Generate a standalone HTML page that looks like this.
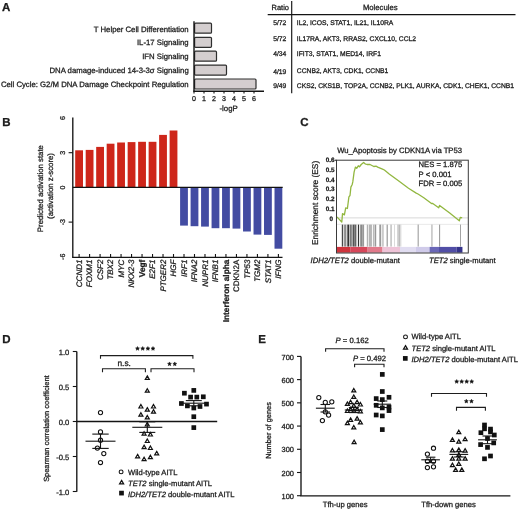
<!DOCTYPE html>
<html><head><meta charset="utf-8"><title>Figure</title>
<style>
html,body{margin:0;padding:0;background:#fff;}
body{width:520px;height:510px;overflow:hidden;}
svg{filter:blur(0.3px);display:block;font-family:"Liberation Sans", sans-serif;text-rendering:geometricPrecision;}
text{stroke:#1c1c1c;stroke-width:0.28px;}
</style></head>
<body>
<svg width="520" height="510" viewBox="0 0 520 510">
<rect width="520" height="510" fill="#fff"/>
<text x="2.0" y="10.6" font-size="11.5" font-weight="bold" fill="#1c1c1c">A</text>
<text x="188.7" y="31.5" font-size="7.75" text-anchor="end" fill="#1c1c1c">T Helper Cell Differentiation</text>
<text x="188.7" y="45.3" font-size="7.75" text-anchor="end" fill="#1c1c1c">IL-17 Signaling</text>
<text x="188.7" y="59.2" font-size="7.75" text-anchor="end" fill="#1c1c1c">IFN Signaling</text>
<text x="188.7" y="73.0" font-size="7.75" text-anchor="end" fill="#1c1c1c">DNA damage-induced 14-3-3&#963; Signaling</text>
<text x="188.7" y="86.8" font-size="7.75" text-anchor="end" fill="#1c1c1c">Cell Cycle: G2/M DNA Damage Checkpoint Regulation</text>
<rect x="194.60" y="23.20" width="16.90" height="10.0" rx="1.0" fill="#d4cecf" stroke="#2e2e2e" stroke-width="1.2"/>
<rect x="194.60" y="37.30" width="16.90" height="10.0" rx="1.0" fill="#d4cecf" stroke="#2e2e2e" stroke-width="1.2"/>
<rect x="194.60" y="51.20" width="21.90" height="10.0" rx="1.0" fill="#d4cecf" stroke="#2e2e2e" stroke-width="1.2"/>
<rect x="194.60" y="65.10" width="31.90" height="10.0" rx="1.0" fill="#d4cecf" stroke="#2e2e2e" stroke-width="1.2"/>
<rect x="194.60" y="79.00" width="61.40" height="10.0" rx="1.0" fill="#d4cecf" stroke="#2e2e2e" stroke-width="1.2"/>
<line x1="194.0" y1="21.3" x2="194.0" y2="91.6" stroke="#141414" stroke-width="1.4"/>
<line x1="193.3" y1="91.3" x2="264.0" y2="91.3" stroke="#141414" stroke-width="1.4"/>
<line x1="194.0" y1="91.3" x2="194.0" y2="93.6" stroke="#141414" stroke-width="1.1"/>
<text x="194.0" y="101.0" font-size="7.1" text-anchor="middle" fill="#1c1c1c">0</text>
<line x1="204.0" y1="91.3" x2="204.0" y2="93.6" stroke="#141414" stroke-width="1.1"/>
<text x="204.0" y="101.0" font-size="7.1" text-anchor="middle" fill="#1c1c1c">1</text>
<line x1="214.0" y1="91.3" x2="214.0" y2="93.6" stroke="#141414" stroke-width="1.1"/>
<text x="214.0" y="101.0" font-size="7.1" text-anchor="middle" fill="#1c1c1c">2</text>
<line x1="224.0" y1="91.3" x2="224.0" y2="93.6" stroke="#141414" stroke-width="1.1"/>
<text x="224.0" y="101.0" font-size="7.1" text-anchor="middle" fill="#1c1c1c">3</text>
<line x1="234.0" y1="91.3" x2="234.0" y2="93.6" stroke="#141414" stroke-width="1.1"/>
<text x="234.0" y="101.0" font-size="7.1" text-anchor="middle" fill="#1c1c1c">4</text>
<line x1="244.0" y1="91.3" x2="244.0" y2="93.6" stroke="#141414" stroke-width="1.1"/>
<text x="244.0" y="101.0" font-size="7.1" text-anchor="middle" fill="#1c1c1c">5</text>
<line x1="254.0" y1="91.3" x2="254.0" y2="93.6" stroke="#141414" stroke-width="1.1"/>
<text x="254.0" y="101.0" font-size="7.1" text-anchor="middle" fill="#1c1c1c">6</text>
<text x="228.6" y="111.3" font-size="7.8" text-anchor="middle" fill="#1c1c1c">-logP</text>
<line x1="291.7" y1="1.0" x2="291.7" y2="93.3" stroke="#141414" stroke-width="1.15"/>
<line x1="267.7" y1="14.6" x2="515.5" y2="14.6" stroke="#141414" stroke-width="1.1"/>
<text x="280.3" y="10.3" font-size="7.5" text-anchor="middle" fill="#1c1c1c">Ratio</text>
<text x="380.2" y="10.1" font-size="7.7" text-anchor="middle" fill="#1c1c1c">Molecules</text>
<text x="279.7" y="25.3" font-size="6.75" text-anchor="middle" fill="#1c1c1c">5/72</text>
<text x="296.8" y="25.3" font-size="6.75" fill="#1c1c1c">IL2, ICOS, STAT1, IL21, IL10RA</text>
<text x="279.7" y="40.9" font-size="6.75" text-anchor="middle" fill="#1c1c1c">5/72</text>
<text x="296.8" y="40.9" font-size="6.75" fill="#1c1c1c">IL17RA, AKT3, RRAS2, CXCL10, CCL2</text>
<text x="279.7" y="56.4" font-size="6.75" text-anchor="middle" fill="#1c1c1c">4/34</text>
<text x="296.8" y="56.4" font-size="6.75" fill="#1c1c1c">IFIT3, STAT1, MED14, IRF1</text>
<text x="279.7" y="74.4" font-size="6.75" text-anchor="middle" fill="#1c1c1c">4/19</text>
<text x="296.8" y="72.7" font-size="6.75" fill="#1c1c1c">CCNB2, AKT3, CDK1, CCNB1</text>
<text x="279.7" y="88.3" font-size="6.75" text-anchor="middle" fill="#1c1c1c">9/49</text>
<text x="296.8" y="88.3" font-size="6.75" fill="#1c1c1c">CKS2, CKS1B, TOP2A, CCNB2, PLK1, AURKA, CDK1, CHEK1, CCNB1</text>
<text x="2.2" y="125.6" font-size="11.5" font-weight="bold" fill="#1c1c1c">B</text>
<line x1="72.8" y1="117.4" x2="72.8" y2="257.5" stroke="#141414" stroke-width="1.35"/>
<line x1="72.14999999999999" y1="257.4" x2="282.5" y2="257.4" stroke="#141414" stroke-width="1.35"/>
<text x="65.1" y="117.98" font-size="7.1" text-anchor="middle" fill="#1c1c1c" transform="rotate(-90 65.1 117.98)">6</text>
<line x1="68.6" y1="152.69" x2="72.8" y2="152.69" stroke="#141414" stroke-width="1.1"/>
<text x="65.1" y="152.69" font-size="7.1" text-anchor="middle" fill="#1c1c1c" transform="rotate(-90 65.1 152.69)">3</text>
<text x="65.1" y="187.4" font-size="7.1" text-anchor="middle" fill="#1c1c1c" transform="rotate(-90 65.1 187.4)">0</text>
<line x1="68.6" y1="222.11" x2="72.8" y2="222.11" stroke="#141414" stroke-width="1.1"/>
<text x="65.1" y="222.11" font-size="7.1" text-anchor="middle" fill="#1c1c1c" transform="rotate(-90 65.1 222.11)">-3</text>
<text x="65.1" y="256.82" font-size="7.1" text-anchor="middle" fill="#1c1c1c" transform="rotate(-90 65.1 256.82)">-6</text>
<text x="42.9" y="188.6" font-size="7.8" text-anchor="middle" fill="#1c1c1c" transform="rotate(-90 42.9 188.6)">Predicted activation state</text>
<text x="53.2" y="186.0" font-size="7.8" text-anchor="middle" fill="#1c1c1c" transform="rotate(-90 53.2 186.0)">(activation z-score)</text>
<rect x="75.20" y="150.30" width="7.80" height="37.10" fill="#ce261a"/>
<line x1="79.10000000000001" y1="254.0" x2="79.10000000000001" y2="257.4" stroke="#141414" stroke-width="1.1"/>
<text x="81.80000000000001" y="259.6" font-size="8.0" text-anchor="end" font-style="italic" fill="#1c1c1c" transform="rotate(-90 81.80000000000001 259.6)">CCND1</text>
<rect x="85.69" y="149.90" width="7.80" height="37.50" fill="#ce261a"/>
<line x1="89.59" y1="254.0" x2="89.59" y2="257.4" stroke="#141414" stroke-width="1.1"/>
<text x="92.29" y="259.6" font-size="8.0" text-anchor="end" font-style="italic" fill="#1c1c1c" transform="rotate(-90 92.29 259.6)">FOXM1</text>
<rect x="96.18" y="146.90" width="7.80" height="40.50" fill="#ce261a"/>
<line x1="100.08000000000001" y1="254.0" x2="100.08000000000001" y2="257.4" stroke="#141414" stroke-width="1.1"/>
<text x="102.78000000000002" y="259.6" font-size="8.0" text-anchor="end" font-style="italic" fill="#1c1c1c" transform="rotate(-90 102.78000000000002 259.6)">CSF2</text>
<rect x="106.67" y="143.70" width="7.80" height="43.70" fill="#ce261a"/>
<line x1="110.57000000000001" y1="254.0" x2="110.57000000000001" y2="257.4" stroke="#141414" stroke-width="1.1"/>
<text x="113.27000000000001" y="259.6" font-size="8.0" text-anchor="end" font-style="italic" fill="#1c1c1c" transform="rotate(-90 113.27000000000001 259.6)">TBX2</text>
<rect x="117.16" y="142.50" width="7.80" height="44.90" fill="#ce261a"/>
<line x1="121.06" y1="254.0" x2="121.06" y2="257.4" stroke="#141414" stroke-width="1.1"/>
<text x="123.76" y="259.6" font-size="8.0" text-anchor="end" font-style="italic" fill="#1c1c1c" transform="rotate(-90 123.76 259.6)">MYC</text>
<rect x="127.65" y="142.10" width="7.80" height="45.30" fill="#ce261a"/>
<line x1="131.55" y1="254.0" x2="131.55" y2="257.4" stroke="#141414" stroke-width="1.1"/>
<text x="134.25" y="259.6" font-size="8.0" text-anchor="end" font-style="italic" fill="#1c1c1c" transform="rotate(-90 134.25 259.6)">NKX2-3</text>
<rect x="138.14" y="141.80" width="7.80" height="45.60" fill="#ce261a"/>
<line x1="142.04" y1="254.0" x2="142.04" y2="257.4" stroke="#141414" stroke-width="1.1"/>
<text x="144.73999999999998" y="259.6" font-size="8.3" text-anchor="end" font-weight="bold" fill="#1c1c1c" transform="rotate(-90 144.73999999999998 259.6)">Vegf</text>
<rect x="148.63" y="141.80" width="7.80" height="45.60" fill="#ce261a"/>
<line x1="152.53" y1="254.0" x2="152.53" y2="257.4" stroke="#141414" stroke-width="1.1"/>
<text x="155.23" y="259.6" font-size="8.0" text-anchor="end" font-style="italic" fill="#1c1c1c" transform="rotate(-90 155.23 259.6)">E2F1</text>
<rect x="159.12" y="134.90" width="7.80" height="52.50" fill="#ce261a"/>
<line x1="163.02" y1="254.0" x2="163.02" y2="257.4" stroke="#141414" stroke-width="1.1"/>
<text x="165.72" y="259.6" font-size="8.0" text-anchor="end" font-style="italic" fill="#1c1c1c" transform="rotate(-90 165.72 259.6)">PTGER2</text>
<rect x="169.61" y="130.50" width="7.80" height="56.90" fill="#ce261a"/>
<line x1="173.51000000000002" y1="254.0" x2="173.51000000000002" y2="257.4" stroke="#141414" stroke-width="1.1"/>
<text x="176.21" y="259.6" font-size="8.0" text-anchor="end" font-style="italic" fill="#1c1c1c" transform="rotate(-90 176.21 259.6)">HGF</text>
<rect x="180.10" y="187.40" width="7.80" height="38.20" fill="#434ca2"/>
<line x1="184.00000000000003" y1="254.0" x2="184.00000000000003" y2="257.4" stroke="#141414" stroke-width="1.1"/>
<text x="186.70000000000002" y="259.6" font-size="8.0" text-anchor="end" font-style="italic" fill="#1c1c1c" transform="rotate(-90 186.70000000000002 259.6)">IRF1</text>
<rect x="190.59" y="187.40" width="7.80" height="38.80" fill="#434ca2"/>
<line x1="194.49" y1="254.0" x2="194.49" y2="257.4" stroke="#141414" stroke-width="1.1"/>
<text x="197.19" y="259.6" font-size="8.0" text-anchor="end" font-style="italic" fill="#1c1c1c" transform="rotate(-90 197.19 259.6)">IFNA2</text>
<rect x="201.08" y="187.40" width="7.80" height="39.20" fill="#434ca2"/>
<line x1="204.98" y1="254.0" x2="204.98" y2="257.4" stroke="#141414" stroke-width="1.1"/>
<text x="207.67999999999998" y="259.6" font-size="8.0" text-anchor="end" font-style="italic" fill="#1c1c1c" transform="rotate(-90 207.67999999999998 259.6)">NUPR1</text>
<rect x="211.57" y="187.40" width="7.80" height="40.80" fill="#434ca2"/>
<line x1="215.47" y1="254.0" x2="215.47" y2="257.4" stroke="#141414" stroke-width="1.1"/>
<text x="218.17" y="259.6" font-size="8.0" text-anchor="end" font-style="italic" fill="#1c1c1c" transform="rotate(-90 218.17 259.6)">IFNB1</text>
<rect x="222.06" y="187.40" width="7.80" height="40.80" fill="#434ca2"/>
<line x1="225.96" y1="254.0" x2="225.96" y2="257.4" stroke="#141414" stroke-width="1.1"/>
<text x="228.66" y="259.6" font-size="8.3" text-anchor="end" font-weight="bold" fill="#1c1c1c" transform="rotate(-90 228.66 259.6)">Interferon alpha</text>
<rect x="232.55" y="187.40" width="7.80" height="41.20" fill="#434ca2"/>
<line x1="236.45000000000002" y1="254.0" x2="236.45000000000002" y2="257.4" stroke="#141414" stroke-width="1.1"/>
<text x="239.15" y="259.6" font-size="8.0" text-anchor="end" fill="#1c1c1c" transform="rotate(-90 239.15 259.6)">CDKN2A</text>
<rect x="243.04" y="187.40" width="7.80" height="44.10" fill="#434ca2"/>
<line x1="246.94000000000003" y1="254.0" x2="246.94000000000003" y2="257.4" stroke="#141414" stroke-width="1.1"/>
<text x="249.64000000000001" y="259.6" font-size="8.0" text-anchor="end" font-style="italic" fill="#1c1c1c" transform="rotate(-90 249.64000000000001 259.6)">TP53</text>
<rect x="253.53" y="187.40" width="7.80" height="47.20" fill="#434ca2"/>
<line x1="257.43" y1="254.0" x2="257.43" y2="257.4" stroke="#141414" stroke-width="1.1"/>
<text x="260.13" y="259.6" font-size="8.0" text-anchor="end" font-style="italic" fill="#1c1c1c" transform="rotate(-90 260.13 259.6)">TGM2</text>
<rect x="264.02" y="187.40" width="7.80" height="47.50" fill="#434ca2"/>
<line x1="267.91999999999996" y1="254.0" x2="267.91999999999996" y2="257.4" stroke="#141414" stroke-width="1.1"/>
<text x="270.61999999999995" y="259.6" font-size="8.0" text-anchor="end" font-style="italic" fill="#1c1c1c" transform="rotate(-90 270.61999999999995 259.6)">STAT1</text>
<rect x="274.51" y="187.40" width="7.80" height="61.30" fill="#434ca2"/>
<line x1="278.40999999999997" y1="254.0" x2="278.40999999999997" y2="257.4" stroke="#141414" stroke-width="1.1"/>
<text x="281.10999999999996" y="259.6" font-size="8.0" text-anchor="end" font-style="italic" fill="#1c1c1c" transform="rotate(-90 281.10999999999996 259.6)">IFNG</text>
<line x1="72.8" y1="187.4" x2="282.7" y2="187.4" stroke="#111" stroke-width="1.4"/>
<text x="300.3" y="125.8" font-size="11.5" font-weight="bold" fill="#1c1c1c">C</text>
<text x="399.6" y="153.3" font-size="7.7" text-anchor="middle" fill="#1c1c1c">Wu_Apoptosis by CDKN1A via TP53</text>
<line x1="336.5" y1="217.9" x2="468.3" y2="217.9" stroke="#d8d8d8" stroke-width="1.0"/>
<line x1="336.5" y1="224.4" x2="468.3" y2="224.4" stroke="#e4e4e4" stroke-width="0.8"/>
<rect x="341.80" y="224.60" width="1.40" height="22.00" fill="#484848"/>
<rect x="344.10" y="224.60" width="2.30" height="22.00" fill="#8c8c8c"/>
<rect x="347.40" y="224.60" width="1.50" height="22.00" fill="#1e1e1e"/>
<rect x="349.50" y="224.60" width="2.30" height="22.00" fill="#7a7a7a"/>
<rect x="352.50" y="224.60" width="1.80" height="22.00" fill="#555"/>
<rect x="354.30" y="224.60" width="2.10" height="22.00" fill="#666"/>
<rect x="357.90" y="224.60" width="1.20" height="22.00" fill="#333"/>
<rect x="360.20" y="224.60" width="2.00" height="22.00" fill="#8a8a8a"/>
<rect x="362.20" y="224.60" width="1.90" height="22.00" fill="#999"/>
<rect x="366.80" y="224.60" width="1.10" height="22.00" fill="#aaa"/>
<rect x="368.70" y="224.60" width="1.50" height="22.00" fill="#b4b4b4"/>
<rect x="370.20" y="224.60" width="1.60" height="22.00" fill="#aaa"/>
<rect x="372.90" y="224.60" width="1.60" height="22.00" fill="#bbb"/>
<rect x="374.80" y="224.60" width="1.40" height="22.00" fill="#999"/>
<rect x="379.30" y="224.60" width="1.90" height="22.00" fill="#9a9a9a"/>
<rect x="382.40" y="224.60" width="1.10" height="22.00" fill="#aaa"/>
<rect x="386.60" y="224.60" width="1.20" height="22.00" fill="#999"/>
<rect x="390.50" y="224.60" width="1.10" height="22.00" fill="#aaa"/>
<rect x="394.00" y="224.60" width="0.70" height="22.00" fill="#ccc"/>
<rect x="397.60" y="224.60" width="0.90" height="22.00" fill="#999"/>
<rect x="399.20" y="224.60" width="0.80" height="22.00" fill="#aaa"/>
<rect x="400.50" y="224.60" width="0.70" height="22.00" fill="#bbb"/>
<rect x="417.70" y="224.60" width="0.90" height="22.00" fill="#888"/>
<rect x="431.50" y="224.60" width="0.90" height="22.00" fill="#999"/>
<rect x="439.20" y="224.60" width="0.90" height="22.00" fill="#888"/>
<rect x="460.00" y="224.60" width="0.90" height="22.00" fill="#999"/>
<rect x="337.00" y="246.90" width="13.25" height="5.80" fill="#cf343d"/>
<rect x="350.20" y="246.90" width="17.45" height="5.80" fill="#d6475a"/>
<rect x="367.60" y="246.90" width="14.95" height="5.80" fill="#e17a8b"/>
<rect x="382.50" y="246.90" width="17.55" height="5.80" fill="#eec3d7"/>
<rect x="400.00" y="246.90" width="16.05" height="5.80" fill="#e1ddf1"/>
<rect x="416.00" y="246.90" width="13.65" height="5.80" fill="#d0cbea"/>
<rect x="429.60" y="246.90" width="9.45" height="5.80" fill="#6a67b7"/>
<rect x="439.00" y="246.90" width="17.55" height="5.80" fill="#514ea6"/>
<rect x="456.50" y="246.90" width="5.95" height="5.80" fill="#36348b"/>
<polyline points="336.9,216.9 341.8,222.0 342.5,213.6 344.4,214.9 345.7,207.8 347.4,208.5 348.9,196.8 350.0,195.5 350.9,187.1 352.2,184.5 352.8,181.9 354.1,172.2 355.4,167.1 356.7,168.3 358.3,165.8 359.5,166.8 361.2,164.5 363.6,162.5 365.1,163.8 367.0,164.5 370.0,164.5 373.8,166.5 376.3,166.2 377.7,167.1 382.5,169.1 384.4,170.0 389.2,173.9 398.8,181.1 408.5,188.3 416.2,193.1 418.0,194.0 423.8,197.7 431.5,203.5 432.4,203.3 438.7,207.8 439.6,205.4 449.7,213.1 459.3,220.8 460.3,217.4 462.2,217.9" fill="none" stroke="#92b740" stroke-width="1.3" stroke-linejoin="round"/>
<rect x="336.5" y="160.2" width="131.8" height="92.80000000000001" fill="none" stroke="#3a3a3a" stroke-width="1.0"/>
<text x="333.0" y="221.2" font-size="6.3" text-anchor="end" font-weight="bold" fill="#1c1c1c">0</text>
<text x="334.6" y="210.7" font-size="6.3" text-anchor="end" font-weight="bold" fill="#1c1c1c">0.1</text>
<text x="334.6" y="200.99999999999997" font-size="6.3" text-anchor="end" font-weight="bold" fill="#1c1c1c">0.2</text>
<text x="334.6" y="191.29999999999998" font-size="6.3" text-anchor="end" font-weight="bold" fill="#1c1c1c">0.3</text>
<text x="334.6" y="181.59999999999997" font-size="6.3" text-anchor="end" font-weight="bold" fill="#1c1c1c">0.4</text>
<text x="334.6" y="171.89999999999998" font-size="6.3" text-anchor="end" font-weight="bold" fill="#1c1c1c">0.5</text>
<text x="334.6" y="162.2" font-size="6.3" text-anchor="end" font-weight="bold" fill="#1c1c1c">0.6</text>
<line x1="334.8" y1="160.2" x2="336.5" y2="160.2" stroke="#141414" stroke-width="1.0"/>
<text x="317.9" y="202.9" font-size="8.4" text-anchor="middle" fill="#1c1c1c" transform="rotate(-90 317.9 202.9)">Enrichment score (ES)</text>
<text x="418.6" y="167.3" font-size="7.65" fill="#1c1c1c">NES = 1.875</text>
<text x="418.6" y="176.6" font-size="7.65" fill="#1c1c1c">P &lt; 0.001</text>
<text x="418.6" y="185.9" font-size="7.65" fill="#1c1c1c">FDR = 0.005</text>
<text x="310.6" y="262.6" font-size="7.65" fill="#1c1c1c"><tspan font-style="italic">IDH2/TET2</tspan> double-mutant</text>
<text x="429.0" y="262.6" font-size="7.65" fill="#1c1c1c"><tspan font-style="italic">TET2</tspan> single-mutant</text>
<text x="2.2" y="343.2" font-size="11.5" font-weight="bold" fill="#1c1c1c">D</text>
<line x1="76.8" y1="351.5" x2="76.8" y2="491.8" stroke="#141414" stroke-width="1.35"/>
<line x1="72.8" y1="351.5" x2="76.8" y2="351.5" stroke="#141414" stroke-width="1.1"/>
<text x="69.3" y="355.4" font-size="7.6" text-anchor="end" fill="#1c1c1c">1.0</text>
<line x1="72.8" y1="386.5" x2="76.8" y2="386.5" stroke="#141414" stroke-width="1.1"/>
<text x="69.3" y="390.4" font-size="7.6" text-anchor="end" fill="#1c1c1c">0.5</text>
<line x1="72.8" y1="421.5" x2="76.8" y2="421.5" stroke="#141414" stroke-width="1.1"/>
<text x="69.3" y="425.4" font-size="7.6" text-anchor="end" fill="#1c1c1c">0.0</text>
<line x1="72.8" y1="456.5" x2="76.8" y2="456.5" stroke="#141414" stroke-width="1.1"/>
<text x="69.3" y="460.4" font-size="7.6" text-anchor="end" fill="#1c1c1c">-0.5</text>
<line x1="72.8" y1="491.5" x2="76.8" y2="491.5" stroke="#141414" stroke-width="1.1"/>
<text x="69.3" y="495.4" font-size="7.6" text-anchor="end" fill="#1c1c1c">-1.0</text>
<line x1="76.8" y1="421.5" x2="217.2" y2="421.5" stroke="#141414" stroke-width="1.35"/>
<text x="49.2" y="428.6" font-size="7.45" text-anchor="middle" fill="#1c1c1c" transform="rotate(-90 49.2 428.6)">Spearman correlation coefficient</text>
<circle cx="100.5" cy="412.6" r="2.1" fill="#fff" stroke="#111" stroke-width="1.05"/>
<circle cx="100.5" cy="431.9" r="2.1" fill="#fff" stroke="#111" stroke-width="1.05"/>
<circle cx="100.5" cy="440.2" r="2.1" fill="#fff" stroke="#111" stroke-width="1.05"/>
<circle cx="97.4" cy="448.1" r="2.1" fill="#fff" stroke="#111" stroke-width="1.05"/>
<circle cx="103.8" cy="453.6" r="2.1" fill="#fff" stroke="#111" stroke-width="1.05"/>
<circle cx="100.5" cy="462.5" r="2.1" fill="#fff" stroke="#111" stroke-width="1.05"/>
<line x1="85.5" y1="441.2" x2="115.5" y2="441.2" stroke="#141414" stroke-width="1.1"/>
<line x1="100.5" y1="434.1" x2="100.5" y2="448.4" stroke="#141414" stroke-width="1.1"/>
<line x1="92.3" y1="434.1" x2="108.7" y2="434.1" stroke="#141414" stroke-width="1.1"/>
<line x1="92.3" y1="448.4" x2="108.7" y2="448.4" stroke="#141414" stroke-width="1.1"/>
<polygon points="147.30,375.85 149.30,379.32 145.30,379.32" fill="#fff" stroke="#111" stroke-width="1.2" stroke-linejoin="miter"/>
<polygon points="147.30,388.75 149.30,392.22 145.30,392.22" fill="#fff" stroke="#111" stroke-width="1.2" stroke-linejoin="miter"/>
<polygon points="140.90,404.55 142.90,408.02 138.90,408.02" fill="#fff" stroke="#111" stroke-width="1.2" stroke-linejoin="miter"/>
<polygon points="147.30,407.65 149.30,411.12 145.30,411.12" fill="#fff" stroke="#111" stroke-width="1.2" stroke-linejoin="miter"/>
<polygon points="153.50,404.55 155.50,408.02 151.50,408.02" fill="#fff" stroke="#111" stroke-width="1.2" stroke-linejoin="miter"/>
<polygon points="153.50,409.65 155.50,413.12 151.50,413.12" fill="#fff" stroke="#111" stroke-width="1.2" stroke-linejoin="miter"/>
<polygon points="140.90,412.75 142.90,416.22 138.90,416.22" fill="#fff" stroke="#111" stroke-width="1.2" stroke-linejoin="miter"/>
<polygon points="147.30,415.45 149.30,418.92 145.30,418.92" fill="#fff" stroke="#111" stroke-width="1.2" stroke-linejoin="miter"/>
<polygon points="147.30,422.55 149.30,426.02 145.30,426.02" fill="#fff" stroke="#111" stroke-width="1.2" stroke-linejoin="miter"/>
<polygon points="144.10,431.75 146.10,435.22 142.10,435.22" fill="#fff" stroke="#111" stroke-width="1.2" stroke-linejoin="miter"/>
<polygon points="150.40,432.55 152.40,436.02 148.40,436.02" fill="#fff" stroke="#111" stroke-width="1.2" stroke-linejoin="miter"/>
<polygon points="147.30,439.05 149.30,442.52 145.30,442.52" fill="#fff" stroke="#111" stroke-width="1.2" stroke-linejoin="miter"/>
<polygon points="144.10,445.15 146.10,448.62 142.10,448.62" fill="#fff" stroke="#111" stroke-width="1.2" stroke-linejoin="miter"/>
<polygon points="150.40,446.05 152.40,449.52 148.40,449.52" fill="#fff" stroke="#111" stroke-width="1.2" stroke-linejoin="miter"/>
<polygon points="156.70,451.35 158.70,454.82 154.70,454.82" fill="#fff" stroke="#111" stroke-width="1.2" stroke-linejoin="miter"/>
<polygon points="137.60,454.35 139.60,457.82 135.60,457.82" fill="#fff" stroke="#111" stroke-width="1.2" stroke-linejoin="miter"/>
<polygon points="144.10,457.25 146.10,460.72 142.10,460.72" fill="#fff" stroke="#111" stroke-width="1.2" stroke-linejoin="miter"/>
<polygon points="150.40,455.25 152.40,458.72 148.40,458.72" fill="#fff" stroke="#111" stroke-width="1.2" stroke-linejoin="miter"/>
<line x1="132.3" y1="427.3" x2="162.3" y2="427.3" stroke="#141414" stroke-width="1.1"/>
<line x1="147.3" y1="421.8" x2="147.3" y2="432.4" stroke="#141414" stroke-width="1.1"/>
<line x1="139.3" y1="421.8" x2="155.3" y2="421.8" stroke="#141414" stroke-width="1.1"/>
<line x1="139.3" y1="432.4" x2="155.3" y2="432.4" stroke="#141414" stroke-width="1.1"/>
<rect x="191.45" y="388.05" width="4.7" height="4.7" fill="#111"/>
<rect x="182.05" y="390.85" width="4.7" height="4.7" fill="#111"/>
<rect x="188.25" y="394.75" width="4.7" height="4.7" fill="#111"/>
<rect x="194.45" y="394.75" width="4.7" height="4.7" fill="#111"/>
<rect x="200.95" y="394.45" width="4.7" height="4.7" fill="#111"/>
<rect x="179.05" y="401.15" width="4.7" height="4.7" fill="#111"/>
<rect x="185.05" y="403.55" width="4.7" height="4.7" fill="#111"/>
<rect x="191.45" y="405.65" width="4.7" height="4.7" fill="#111"/>
<rect x="197.65" y="404.15" width="4.7" height="4.7" fill="#111"/>
<rect x="204.15" y="401.75" width="4.7" height="4.7" fill="#111"/>
<rect x="191.45" y="414.35" width="4.7" height="4.7" fill="#111"/>
<rect x="191.45" y="425.25" width="4.7" height="4.7" fill="#111"/>
<line x1="180.3" y1="403.2" x2="207.3" y2="403.2" stroke="#141414" stroke-width="1.1"/>
<line x1="193.8" y1="400.6" x2="193.8" y2="405.8" stroke="#141414" stroke-width="1.1"/>
<line x1="185.8" y1="400.6" x2="201.8" y2="400.6" stroke="#141414" stroke-width="1.1"/>
<line x1="185.8" y1="405.8" x2="201.8" y2="405.8" stroke="#141414" stroke-width="1.1"/>
<polyline points="100.5,358.8 100.5,355.6 192.9,355.6 192.9,358.8" fill="none" stroke="#1e1e1e" stroke-width="1.1"/>
<polyline points="102.5,372.3 102.5,368.7 145.4,368.7 145.4,372.3" fill="none" stroke="#1e1e1e" stroke-width="1.1"/>
<polyline points="151.0,372.3 151.0,368.7 194.0,368.7 194.0,372.3" fill="none" stroke="#1e1e1e" stroke-width="1.1"/>
<text x="124.2" y="366.1" font-size="8.4" text-anchor="middle" fill="#1c1c1c">n.s.</text>
<polygon points="137.50,346.55 138.06,347.83 139.45,347.97 138.40,348.89 138.70,350.26 137.50,349.55 136.30,350.26 136.60,348.89 135.55,347.97 136.94,347.83" fill="#111" stroke="#111" stroke-width="0.5" stroke-linejoin="round"/>
<polygon points="142.70,346.55 143.26,347.83 144.65,347.97 143.60,348.89 143.90,350.26 142.70,349.55 141.50,350.26 141.80,348.89 140.75,347.97 142.14,347.83" fill="#111" stroke="#111" stroke-width="0.5" stroke-linejoin="round"/>
<polygon points="147.90,346.55 148.46,347.83 149.85,347.97 148.80,348.89 149.10,350.26 147.90,349.55 146.70,350.26 147.00,348.89 145.95,347.97 147.34,347.83" fill="#111" stroke="#111" stroke-width="0.5" stroke-linejoin="round"/>
<polygon points="153.00,346.55 153.56,347.83 154.95,347.97 153.90,348.89 154.20,350.26 153.00,349.55 151.80,350.26 152.10,348.89 151.05,347.97 152.44,347.83" fill="#111" stroke="#111" stroke-width="0.5" stroke-linejoin="round"/>
<polygon points="169.50,361.95 170.06,363.23 171.45,363.37 170.40,364.29 170.70,365.66 169.50,364.95 168.30,365.66 168.60,364.29 167.55,363.37 168.94,363.23" fill="#111" stroke="#111" stroke-width="0.5" stroke-linejoin="round"/>
<polygon points="174.80,361.95 175.36,363.23 176.75,363.37 175.70,364.29 176.00,365.66 174.80,364.95 173.60,365.66 173.90,364.29 172.85,363.37 174.24,363.23" fill="#111" stroke="#111" stroke-width="0.5" stroke-linejoin="round"/>
<circle cx="121.1" cy="471.9" r="1.95" fill="#fff" stroke="#111" stroke-width="1.05"/>
<polygon points="121.60,480.40 123.65,483.95 119.55,483.95" fill="#fff" stroke="#111" stroke-width="1.2" stroke-linejoin="miter"/>
<rect x="119.15" y="490.75" width="4.7" height="4.7" fill="#111"/>
<text x="128.0" y="474.6" font-size="7.6" fill="#1c1c1c">Wild-type AITL</text>
<text x="128.0" y="486.2" font-size="7.6" fill="#1c1c1c"><tspan font-style="italic">TET2</tspan> single-mutant AITL</text>
<text x="128.0" y="496.6" font-size="7.6" fill="#1c1c1c"><tspan font-style="italic">IDH2/TET2</tspan> double-mutant AITL</text>
<text x="258.3" y="342.9" font-size="11.5" font-weight="bold" fill="#1c1c1c">E</text>
<line x1="301.0" y1="356.4" x2="301.0" y2="495.8" stroke="#141414" stroke-width="1.35"/>
<line x1="300.35" y1="495.8" x2="510.4" y2="495.8" stroke="#141414" stroke-width="1.35"/>
<line x1="297.0" y1="495.71999999999997" x2="301.0" y2="495.71999999999997" stroke="#141414" stroke-width="1.1"/>
<text x="294.0" y="498.82" font-size="7.45" text-anchor="end" fill="#1c1c1c">100</text>
<line x1="297.0" y1="472.5" x2="301.0" y2="472.5" stroke="#141414" stroke-width="1.1"/>
<text x="294.0" y="475.6" font-size="7.45" text-anchor="end" fill="#1c1c1c">200</text>
<line x1="297.0" y1="449.28" x2="301.0" y2="449.28" stroke="#141414" stroke-width="1.1"/>
<text x="294.0" y="452.38" font-size="7.45" text-anchor="end" fill="#1c1c1c">300</text>
<line x1="297.0" y1="426.05999999999995" x2="301.0" y2="426.05999999999995" stroke="#141414" stroke-width="1.1"/>
<text x="294.0" y="429.15999999999997" font-size="7.45" text-anchor="end" fill="#1c1c1c">400</text>
<line x1="297.0" y1="402.84" x2="301.0" y2="402.84" stroke="#141414" stroke-width="1.1"/>
<text x="294.0" y="405.94" font-size="7.45" text-anchor="end" fill="#1c1c1c">500</text>
<line x1="297.0" y1="379.62" x2="301.0" y2="379.62" stroke="#141414" stroke-width="1.1"/>
<text x="294.0" y="382.72" font-size="7.45" text-anchor="end" fill="#1c1c1c">600</text>
<line x1="297.0" y1="356.4" x2="301.0" y2="356.4" stroke="#141414" stroke-width="1.1"/>
<text x="294.0" y="359.5" font-size="7.45" text-anchor="end" fill="#1c1c1c">700</text>
<text x="271.0" y="430.5" font-size="7.4" text-anchor="middle" fill="#1c1c1c" transform="rotate(-90 271.0 430.5)">Number of genes</text>
<text x="345.2" y="507.3" font-size="7.6" text-anchor="middle" fill="#1c1c1c">Tfh-up genes</text>
<text x="448.6" y="507.3" font-size="7.6" text-anchor="middle" fill="#1c1c1c">Tfh-down genes</text>
<circle cx="318.8" cy="397.6" r="2.1" fill="#fff" stroke="#111" stroke-width="1.05"/>
<circle cx="325.3" cy="402.4" r="2.1" fill="#fff" stroke="#111" stroke-width="1.05"/>
<circle cx="331.8" cy="401.8" r="2.1" fill="#fff" stroke="#111" stroke-width="1.05"/>
<circle cx="325.3" cy="411.8" r="2.1" fill="#fff" stroke="#111" stroke-width="1.05"/>
<circle cx="328.6" cy="415.1" r="2.1" fill="#fff" stroke="#111" stroke-width="1.05"/>
<circle cx="322.4" cy="420.6" r="2.1" fill="#fff" stroke="#111" stroke-width="1.05"/>
<line x1="315.90000000000003" y1="408.2" x2="334.7" y2="408.2" stroke="#141414" stroke-width="1.1"/>
<line x1="325.3" y1="404.5" x2="325.3" y2="412.0" stroke="#141414" stroke-width="1.1"/>
<line x1="320.5" y1="404.5" x2="330.1" y2="404.5" stroke="#141414" stroke-width="1.1"/>
<line x1="320.5" y1="412.0" x2="330.1" y2="412.0" stroke="#141414" stroke-width="1.1"/>
<polygon points="353.80,388.45 355.80,391.92 351.80,391.92" fill="#fff" stroke="#111" stroke-width="1.2" stroke-linejoin="miter"/>
<polygon points="353.80,394.95 355.80,398.42 351.80,398.42" fill="#fff" stroke="#111" stroke-width="1.2" stroke-linejoin="miter"/>
<polygon points="347.40,401.95 349.40,405.42 345.40,405.42" fill="#fff" stroke="#111" stroke-width="1.2" stroke-linejoin="miter"/>
<polygon points="350.60,400.25 352.60,403.72 348.60,403.72" fill="#fff" stroke="#111" stroke-width="1.2" stroke-linejoin="miter"/>
<polygon points="357.10,400.25 359.10,403.72 355.10,403.72" fill="#fff" stroke="#111" stroke-width="1.2" stroke-linejoin="miter"/>
<polygon points="360.40,402.55 362.40,406.02 358.40,406.02" fill="#fff" stroke="#111" stroke-width="1.2" stroke-linejoin="miter"/>
<polygon points="353.80,403.75 355.80,407.22 351.80,407.22" fill="#fff" stroke="#111" stroke-width="1.2" stroke-linejoin="miter"/>
<polygon points="347.40,409.05 349.40,412.52 345.40,412.52" fill="#fff" stroke="#111" stroke-width="1.2" stroke-linejoin="miter"/>
<polygon points="350.60,407.25 352.60,410.72 348.60,410.72" fill="#fff" stroke="#111" stroke-width="1.2" stroke-linejoin="miter"/>
<polygon points="353.80,409.05 355.80,412.52 351.80,412.52" fill="#fff" stroke="#111" stroke-width="1.2" stroke-linejoin="miter"/>
<polygon points="357.10,407.25 359.10,410.72 355.10,410.72" fill="#fff" stroke="#111" stroke-width="1.2" stroke-linejoin="miter"/>
<polygon points="360.40,409.35 362.40,412.82 358.40,412.82" fill="#fff" stroke="#111" stroke-width="1.2" stroke-linejoin="miter"/>
<polygon points="350.60,417.85 352.60,421.32 348.60,421.32" fill="#fff" stroke="#111" stroke-width="1.2" stroke-linejoin="miter"/>
<polygon points="347.40,421.15 349.40,424.62 345.40,424.62" fill="#fff" stroke="#111" stroke-width="1.2" stroke-linejoin="miter"/>
<polygon points="357.10,416.65 359.10,420.12 355.10,420.12" fill="#fff" stroke="#111" stroke-width="1.2" stroke-linejoin="miter"/>
<polygon points="360.40,420.45 362.40,423.92 358.40,423.92" fill="#fff" stroke="#111" stroke-width="1.2" stroke-linejoin="miter"/>
<polygon points="353.80,425.45 355.80,428.92 351.80,428.92" fill="#fff" stroke="#111" stroke-width="1.2" stroke-linejoin="miter"/>
<polygon points="354.10,440.15 356.10,443.62 352.10,443.62" fill="#fff" stroke="#111" stroke-width="1.2" stroke-linejoin="miter"/>
<line x1="344.8" y1="410.0" x2="362.8" y2="410.0" stroke="#141414" stroke-width="1.1"/>
<line x1="353.8" y1="407.5" x2="353.8" y2="412.6" stroke="#141414" stroke-width="1.1"/>
<line x1="348.8" y1="407.5" x2="358.8" y2="407.5" stroke="#141414" stroke-width="1.1"/>
<line x1="348.8" y1="412.6" x2="358.8" y2="412.6" stroke="#141414" stroke-width="1.1"/>
<rect x="379.95" y="372.05" width="4.7" height="4.7" fill="#111"/>
<rect x="379.95" y="389.15" width="4.7" height="4.7" fill="#111"/>
<rect x="373.85" y="396.25" width="4.7" height="4.7" fill="#111"/>
<rect x="379.95" y="397.25" width="4.7" height="4.7" fill="#111"/>
<rect x="386.65" y="394.95" width="4.7" height="4.7" fill="#111"/>
<rect x="373.85" y="402.95" width="4.7" height="4.7" fill="#111"/>
<rect x="379.95" y="405.55" width="4.7" height="4.7" fill="#111"/>
<rect x="386.65" y="404.65" width="4.7" height="4.7" fill="#111"/>
<rect x="386.65" y="408.25" width="4.7" height="4.7" fill="#111"/>
<rect x="373.85" y="412.65" width="4.7" height="4.7" fill="#111"/>
<rect x="379.95" y="413.55" width="4.7" height="4.7" fill="#111"/>
<rect x="379.95" y="427.25" width="4.7" height="4.7" fill="#111"/>
<line x1="373.7" y1="404.2" x2="390.90000000000003" y2="404.2" stroke="#141414" stroke-width="1.1"/>
<line x1="382.3" y1="401.0" x2="382.3" y2="407.5" stroke="#141414" stroke-width="1.1"/>
<line x1="377.3" y1="401.0" x2="387.3" y2="401.0" stroke="#141414" stroke-width="1.1"/>
<line x1="377.3" y1="407.5" x2="387.3" y2="407.5" stroke="#141414" stroke-width="1.1"/>
<polyline points="325.6,351.7 325.6,348.7 384.0,348.7 384.0,351.7" fill="none" stroke="#1e1e1e" stroke-width="1.1"/>
<polyline points="354.6,367.3 354.6,364.3 384.0,364.3 384.0,367.3" fill="none" stroke="#1e1e1e" stroke-width="1.1"/>
<text x="335.6" y="343.0" font-size="7.7" fill="#1c1c1c"><tspan font-style="italic">P</tspan> = 0.162</text>
<text x="352.9" y="360.8" font-size="7.7" fill="#1c1c1c"><tspan font-style="italic">P</tspan> = 0.492</text>
<circle cx="433.5" cy="448.2" r="2.1" fill="#fff" stroke="#111" stroke-width="1.05"/>
<circle cx="427.4" cy="454.1" r="2.1" fill="#fff" stroke="#111" stroke-width="1.05"/>
<circle cx="427.4" cy="461.2" r="2.1" fill="#fff" stroke="#111" stroke-width="1.05"/>
<circle cx="433.5" cy="461.2" r="2.1" fill="#fff" stroke="#111" stroke-width="1.05"/>
<circle cx="427.4" cy="467.6" r="2.1" fill="#fff" stroke="#111" stroke-width="1.05"/>
<circle cx="433.5" cy="466.8" r="2.1" fill="#fff" stroke="#111" stroke-width="1.05"/>
<line x1="421.3" y1="459.8" x2="439.90000000000003" y2="459.8" stroke="#141414" stroke-width="1.1"/>
<line x1="430.6" y1="457.2" x2="430.6" y2="462.6" stroke="#141414" stroke-width="1.1"/>
<line x1="425.8" y1="457.2" x2="435.40000000000003" y2="457.2" stroke="#141414" stroke-width="1.1"/>
<line x1="425.8" y1="462.6" x2="435.40000000000003" y2="462.6" stroke="#141414" stroke-width="1.1"/>
<polygon points="458.80,430.25 460.80,433.72 456.80,433.72" fill="#fff" stroke="#111" stroke-width="1.2" stroke-linejoin="miter"/>
<polygon points="452.40,437.85 454.40,441.32 450.40,441.32" fill="#fff" stroke="#111" stroke-width="1.2" stroke-linejoin="miter"/>
<polygon points="458.80,439.65 460.80,443.12 456.80,443.12" fill="#fff" stroke="#111" stroke-width="1.2" stroke-linejoin="miter"/>
<polygon points="465.10,437.25 467.10,440.72 463.10,440.72" fill="#fff" stroke="#111" stroke-width="1.2" stroke-linejoin="miter"/>
<polygon points="452.40,448.45 454.40,451.92 450.40,451.92" fill="#fff" stroke="#111" stroke-width="1.2" stroke-linejoin="miter"/>
<polygon points="458.80,447.85 460.80,451.32 456.80,451.32" fill="#fff" stroke="#111" stroke-width="1.2" stroke-linejoin="miter"/>
<polygon points="465.10,448.65 467.10,452.12 463.10,452.12" fill="#fff" stroke="#111" stroke-width="1.2" stroke-linejoin="miter"/>
<polygon points="452.40,456.65 454.40,460.12 450.40,460.12" fill="#fff" stroke="#111" stroke-width="1.2" stroke-linejoin="miter"/>
<polygon points="458.80,456.65 460.80,460.12 456.80,460.12" fill="#fff" stroke="#111" stroke-width="1.2" stroke-linejoin="miter"/>
<polygon points="465.10,456.65 467.10,460.12 463.10,460.12" fill="#fff" stroke="#111" stroke-width="1.2" stroke-linejoin="miter"/>
<polygon points="458.80,461.95 460.80,465.42 456.80,465.42" fill="#fff" stroke="#111" stroke-width="1.2" stroke-linejoin="miter"/>
<polygon points="452.40,463.15 454.40,466.62 450.40,466.62" fill="#fff" stroke="#111" stroke-width="1.2" stroke-linejoin="miter"/>
<polygon points="455.60,467.85 457.60,471.32 453.60,471.32" fill="#fff" stroke="#111" stroke-width="1.2" stroke-linejoin="miter"/>
<polygon points="461.80,467.85 463.80,471.32 459.80,471.32" fill="#fff" stroke="#111" stroke-width="1.2" stroke-linejoin="miter"/>
<polygon points="458.80,452.85 460.80,456.32 456.80,456.32" fill="#fff" stroke="#111" stroke-width="1.2" stroke-linejoin="miter"/>
<line x1="449.40000000000003" y1="454.4" x2="468.2" y2="454.4" stroke="#141414" stroke-width="1.1"/>
<line x1="458.8" y1="451.8" x2="458.8" y2="457.0" stroke="#141414" stroke-width="1.1"/>
<line x1="453.8" y1="451.8" x2="463.8" y2="451.8" stroke="#141414" stroke-width="1.1"/>
<line x1="453.8" y1="457.0" x2="463.8" y2="457.0" stroke="#141414" stroke-width="1.1"/>
<rect x="482.15" y="422.65" width="4.7" height="4.7" fill="#111"/>
<rect x="482.15" y="426.45" width="4.7" height="4.7" fill="#111"/>
<rect x="488.15" y="426.75" width="4.7" height="4.7" fill="#111"/>
<rect x="478.55" y="430.35" width="4.7" height="4.7" fill="#111"/>
<rect x="488.15" y="429.55" width="4.7" height="4.7" fill="#111"/>
<rect x="491.95" y="432.65" width="4.7" height="4.7" fill="#111"/>
<rect x="485.15" y="436.15" width="4.7" height="4.7" fill="#111"/>
<rect x="478.25" y="442.25" width="4.7" height="4.7" fill="#111"/>
<rect x="491.35" y="440.55" width="4.7" height="4.7" fill="#111"/>
<rect x="485.15" y="445.05" width="4.7" height="4.7" fill="#111"/>
<rect x="482.15" y="456.45" width="4.7" height="4.7" fill="#111"/>
<rect x="488.15" y="453.65" width="4.7" height="4.7" fill="#111"/>
<line x1="478.1" y1="439.8" x2="496.9" y2="439.8" stroke="#141414" stroke-width="1.1"/>
<line x1="487.5" y1="436.0" x2="487.5" y2="443.7" stroke="#141414" stroke-width="1.1"/>
<line x1="482.5" y1="436.0" x2="492.5" y2="436.0" stroke="#141414" stroke-width="1.1"/>
<line x1="482.5" y1="443.7" x2="492.5" y2="443.7" stroke="#141414" stroke-width="1.1"/>
<polyline points="431.5,396.8 431.5,393.5 486.5,393.5 486.5,396.8" fill="none" stroke="#1e1e1e" stroke-width="1.1"/>
<polyline points="456.5,410.7 456.5,407.4 485.4,407.4 485.4,410.7" fill="none" stroke="#1e1e1e" stroke-width="1.1"/>
<polygon points="456.70,379.55 457.26,380.83 458.65,380.97 457.60,381.89 457.90,383.26 456.70,382.55 455.50,383.26 455.80,381.89 454.75,380.97 456.14,380.83" fill="#111" stroke="#111" stroke-width="0.5" stroke-linejoin="round"/>
<polygon points="461.70,379.55 462.26,380.83 463.65,380.97 462.60,381.89 462.90,383.26 461.70,382.55 460.50,383.26 460.80,381.89 459.75,380.97 461.14,380.83" fill="#111" stroke="#111" stroke-width="0.5" stroke-linejoin="round"/>
<polygon points="466.70,379.55 467.26,380.83 468.65,380.97 467.60,381.89 467.90,383.26 466.70,382.55 465.50,383.26 465.80,381.89 464.75,380.97 466.14,380.83" fill="#111" stroke="#111" stroke-width="0.5" stroke-linejoin="round"/>
<polygon points="471.70,379.55 472.26,380.83 473.65,380.97 472.60,381.89 472.90,383.26 471.70,382.55 470.50,383.26 470.80,381.89 469.75,380.97 471.14,380.83" fill="#111" stroke="#111" stroke-width="0.5" stroke-linejoin="round"/>
<polygon points="466.30,399.25 466.86,400.53 468.25,400.67 467.20,401.59 467.50,402.96 466.30,402.25 465.10,402.96 465.40,401.59 464.35,400.67 465.74,400.53" fill="#111" stroke="#111" stroke-width="0.5" stroke-linejoin="round"/>
<polygon points="471.50,399.25 472.06,400.53 473.45,400.67 472.40,401.59 472.70,402.96 471.50,402.25 470.30,402.96 470.60,401.59 469.55,400.67 470.94,400.53" fill="#111" stroke="#111" stroke-width="0.5" stroke-linejoin="round"/>
<circle cx="405.5" cy="336.9" r="1.95" fill="#fff" stroke="#111" stroke-width="1.05"/>
<polygon points="405.50,345.60 407.55,349.15 403.45,349.15" fill="#fff" stroke="#111" stroke-width="1.2" stroke-linejoin="miter"/>
<rect x="402.95" y="356.05" width="4.7" height="4.7" fill="#111"/>
<text x="411.5" y="338.6" font-size="7.6" fill="#1c1c1c">Wild-type AITL</text>
<text x="411.5" y="350.5" font-size="7.6" fill="#1c1c1c"><tspan font-style="italic">TET2</tspan> single-mutant AITL</text>
<text x="411.5" y="362.2" font-size="7.6" fill="#1c1c1c"><tspan font-style="italic">IDH2/TET2</tspan> double-mutant AITL</text>
</svg>
</body></html>
